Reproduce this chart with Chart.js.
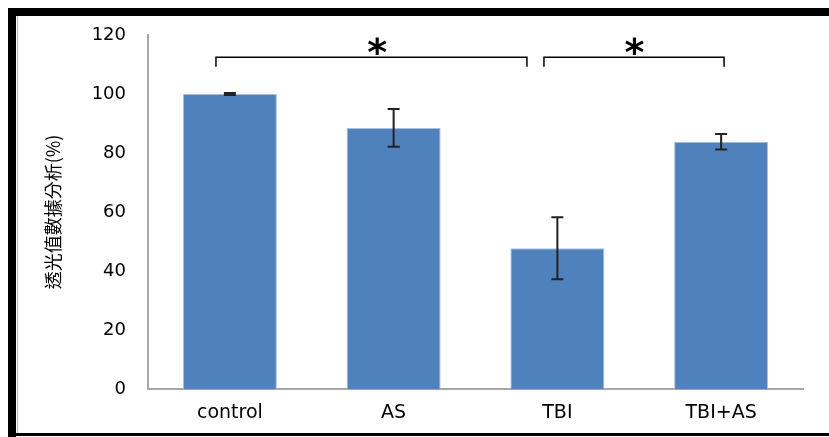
<!DOCTYPE html>
<html>
<head>
<meta charset="utf-8">
<script src="https://cdn.jsdelivr.net/npm/chart.js@4"></script>
<style>
  html, body { margin: 0; padding: 0; background: #fff; }
  #wrap { width: 829px; height: 437px; }
</style>
</head>
<body>
<div id="wrap"><canvas id="myChart" width="829" height="437"></canvas></div>
<script>
  var categories = ["control", "AS", "TBI", "TBI+AS"];
  var means = [100, 88.5, 47.7, 83.8];
  var errors = [0.3, 6.4, 10.5, 2.6];
  var yTicks = [0, 20, 40, 60, 80, 100, 120];

  // significance brackets: [from index, to index], in category units
  var brackets = [[-0.085, 1.814], [1.918, 3.018]];
  var bracketLevel = 112.5;
  var bracketDrop = 109.2;
  var stars = [0.9, 2.47];
  var starLevel = 116.3;

  var tickFont = "DejaVu Sans";

  // frame around the picture, like the scanned figure
  var framePlugin = {
    id: "frame",
    beforeDraw: function (chart) {
      var c = chart.ctx;
      c.save();
      c.fillStyle = "#fff";
      c.fillRect(0, 0, chart.width, chart.height);
      c.fillStyle = "#000";
      c.fillRect(8, 8, chart.width - 8, 8);
      c.fillRect(8, 8, 8, chart.height - 8);
      c.fillRect(8, chart.height - 4, chart.width - 8, 3);
      c.strokeStyle = "#bbb";
      c.lineWidth = 1;
      c.beginPath();
      c.moveTo(17.5, 16);
      c.lineTo(17.5, chart.height - 4);
      c.stroke();
      c.restore();
    }
  };

  var errorBarPlugin = {
    id: "errorBars",
    afterDatasetsDraw: function (chart) {
      var c = chart.ctx;
      var xs = chart.scales.x, ys = chart.scales.y;
      c.save();
      c.strokeStyle = "#222";
      c.lineWidth = 2;
      means.forEach(function (m, i) {
        var x = xs.getPixelForValue(i);
        var top = ys.getPixelForValue(m + errors[i]);
        var bot = ys.getPixelForValue(m - errors[i]);
        c.beginPath();
        c.moveTo(x, top); c.lineTo(x, bot);
        c.moveTo(x - 6, top); c.lineTo(x + 6, top);
        c.moveTo(x - 6, bot); c.lineTo(x + 6, bot);
        c.stroke();
      });

      // brackets and stars
      c.lineWidth = 1.5;
      c.strokeStyle = "#000";
      var yl = ys.getPixelForValue(bracketLevel);
      var yd = ys.getPixelForValue(bracketDrop);
      brackets.forEach(function (b) {
        var x1 = xs.getPixelForValue(b[0]);
        var x2 = xs.getPixelForValue(b[1]);
        c.beginPath();
        c.moveTo(x1, yd); c.lineTo(x1, yl); c.lineTo(x2, yl); c.lineTo(x2, yd);
        c.stroke();
      });
      c.fillStyle = "#000";
      c.font = "bold 38px 'DejaVu Sans'";
      c.textAlign = "center";
      c.textBaseline = "middle";
      stars.forEach(function (s) {
        c.fillText("*", xs.getPixelForValue(s), ys.getPixelForValue(starLevel) + 9);
      });
      c.restore();
    }
  };

  new Chart(document.getElementById("myChart"), {
    type: "bar",
    data: {
      labels: categories,
      datasets: [{
        data: means,
        backgroundColor: "#4f81bd",
        borderColor: "#a7c0e0",
        borderWidth: 1,
        categoryPercentage: 1,
        barPercentage: 0.574
      }]
    },
    options: {
      responsive: false,
      animation: false,
      layout: { padding: { left: 18, right: 26, top: 35, bottom: 4 } },
      plugins: {
        legend: { display: false },
        tooltip: { enabled: false }
      },
      scales: {
        x: {
          grid: { display: false, drawTicks: false },
          border: { color: "#a6a6a6", width: 2 },
          ticks: { color: "#000", padding: 13, font: { family: tickFont, size: 19 } },
          afterFit: function (s) { s.height = 44; }
        },
        y: {
          min: 0,
          max: 120,
          afterBuildTicks: function (s) {
            s.ticks = yTicks.map(function (v) { return { value: v }; });
          },
          grid: { display: false, drawTicks: false },
          border: { color: "#a6a6a6", width: 2 },
          ticks: { color: "#000", padding: 22, font: { family: tickFont, size: 18 } },
          title: {
            display: true,
            text: "透光值數據分析(%)",
            color: "#000",
            padding: { top: 24, bottom: 0 },
            font: { family: "Noto Sans CJK TC", size: 18 }
          },
          afterFit: function (s) { s.width = 130; }
        }
      }
    },
    plugins: [framePlugin, errorBarPlugin]
  });
</script>
</body>
</html>
